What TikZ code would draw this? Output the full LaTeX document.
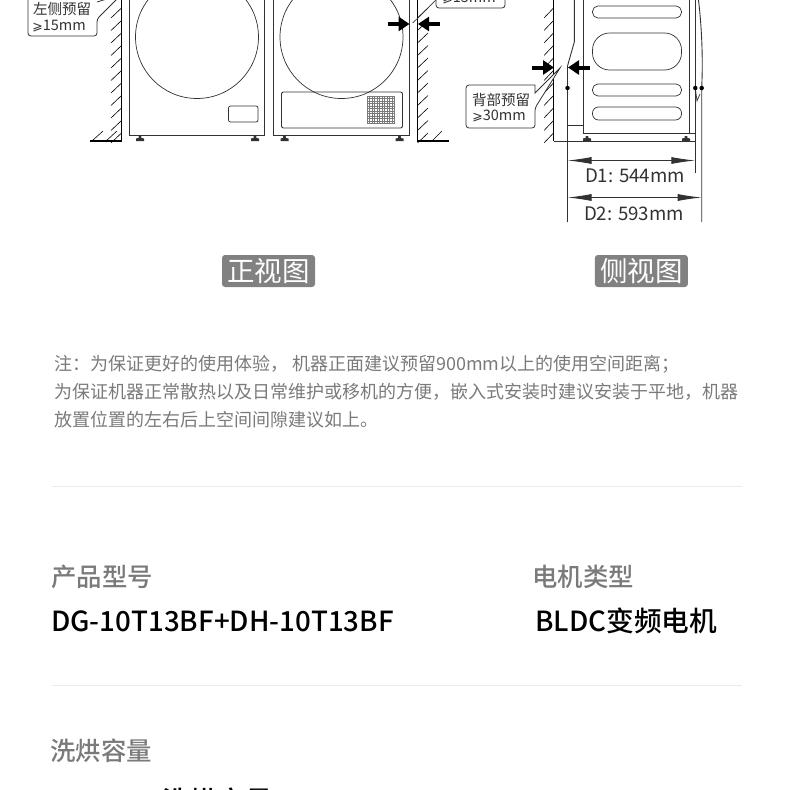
\documentclass[tikz,border=0pt]{standalone}
\usepackage{fontspec}
\setmainfont{Noto Sans CJK SC}
\newfontfamily\heavycjk{Noto Sans CJK SC Medium}
\newfontfamily\symfont{DejaVu Sans}
\usetikzlibrary{positioning,arrows.meta}
\definecolor{mygray} {RGB} {122,122,122}
\definecolor{myline} {RGB} {50,50,50}
\definecolor{myrule} {RGB} {235,235,235}
\newcommand{\geqs}{{\symfont\fontsize{12.5}{13}\selectfont ⩾}}
\tikzset{
    drawn/.style = {draw = myline, line width = 0.9pt},
    thin drawn/.style = {draw = myline, line width = 0.7pt},
    wall/.style = {draw = black, line width = 1.1pt},
    hatch/.style = {draw = black, line width = 0.6pt},
    foot/.style = {fill = myline, draw = none},
    gap arrow/.style = {draw = black, line width = 4pt, -{Triangle[length = 11pt, width = 14pt]}},
    dim arrow/.style = {draw = myline, line width = 0.9pt, {Latex[length = 24pt, width = 7pt]}-{Latex[length = 24pt, width = 7pt]}},
    callout/.style = {draw = myline, line width = 0.8pt, rounded corners = 3pt},
    dot/.style = {circle, fill = black, inner sep = 0pt, minimum size = 4.5pt},
    view tag/.style = {fill = mygray!95, text = white, rounded corners = 3pt, font = \fontsize{27.5}{28}\selectfont,
        minimum width = 93pt, minimum height = 32pt, inner sep = 0pt},
    small label/.style = {inner sep = 0pt, text = myline, font = \fontsize{14.5}{15}\selectfont},
    dim label/.style = {inner sep = 0pt, text = myline, font = \fontsize{18.7}{19}\selectfont},
    note/.style = {anchor = west, inner sep = 0pt, text = mygray, font = \fontsize{18}{18}\selectfont},
    head/.style = {anchor = west, inner sep = 0pt, text = mygray, font = \heavycjk\fontsize{25.4}{26}\selectfont},
    value/.style = {anchor = west, inner sep = 0pt, text = black, font = \heavycjk\fontsize{27.7}{28}\selectfont},
}
\begin{document}
\begin{tikzpicture}[x = 1pt, y = -1pt]
    \useasboundingbox (0,0) rectangle (790,790);
    \begin{scope}
    \clip (0,0) rectangle (790,790);
    % walls
    \draw [wall] (121.5,0) -- (121.5,141) -- (90,141);
    \draw [wall] (417.5,0) -- (417.5,141) -- (449,141);
    \draw [wall] (553.5,0) -- (553.5,141);
    \draw [drawn] (553.5,141) -- (695,141);
    \foreach \y in {8,20.5,...,133} {
        \draw [hatch] (111,\y+10) -- (121.5,\y);
        \draw [hatch] (417.5,\y+10) -- (428,\y);
        \draw [hatch] (544,\y+10) -- (553.5,\y);
    }
    \draw [hatch] (92,141) -- (103,131);
    \draw [hatch] (106,141) -- (117,131);
    \draw [hatch] (432,141) -- (442,131);
    % front view, left machine
    \draw [drawn] (129,0) -- (129,135) -- (264,135) -- (264,0);
    \draw [thin drawn] (197,37) circle (61.5);
    \draw [thin drawn, rounded corners = 2pt] (228.5,106) rectangle (258,122);
    % front view, right machine
    \draw [drawn] (273.5,0) -- (273.5,135) -- (409,135) -- (409,0);
    \draw [thin drawn] (341.5,37) circle (61.5);
    \draw [drawn, rounded corners = 2pt] (281.5,92) rectangle (402.5,128);
    \foreach \x in {367,369.5,...,395} {
        \draw [mygray, line width = 0.6pt] (\x,96) -- (\x,123);
    }
    \foreach \y in {96,98.5,...,123.5} {
        \draw [mygray, line width = 0.6pt] (367,\y) -- (395,\y);
    }
    \foreach \x in {140,255,284.5,399.5,587,686} {
        \fill [foot] (\x-1.2,136) -- (\x+1.2,136) -- (\x+1.5,138) -- (\x+4,138.5) -- (\x+4,141) -- (\x-4,141) -- (\x-4,138.5) -- (\x-1.5,138) -- cycle;
    }
    % side view
    \draw [drawn] (583.5,0) -- (583.5,133) -- (695,133);
    \draw [drawn] (689,0) -- (689,133);
    \draw [thin drawn, rounded corners = 5.5pt] (592.5,6) rectangle (681.5,18);
    \draw [thin drawn, rounded corners = 17pt] (592.5,33) rectangle (681.5,70);
    \draw [thin drawn, rounded corners = 5.5pt] (592.5,84) rectangle (681.5,96);
    \draw [thin drawn, rounded corners = 6pt] (592.5,107) rectangle (681.5,120);
    \draw [drawn] (567.5,125) -- (583.5,125);
    \draw [drawn] (574.3,0) -- (574.3,42) -- (567.5,66) -- (567.5,222);
    \draw [drawn] (695.3,0) -- (695.3,173);
    \draw [drawn] (698.5,0) .. controls (702,30) and (703,60) .. (701.7,88) -- (701.7,222);
    \draw [thin drawn] (695.3,88) -- (697,101) -- (700,94);
    \node [dot] (backdot) at (567.5,88) {};
    \node [dot] (dotA) at (695.3,88) {};
    \node [dot] (dotB) at (701.7,88) {};
    % dimensions
    \coordinate (d1l) at (567.5,160.5);
    \coordinate (d1r) at (695.3,160.5);
    \coordinate (d2l) at (567.5,197.5);
    \coordinate (d2r) at (701.7,197.5);
    \draw [dim arrow] (d1l) -- (d1r);
    \draw [dim arrow] (d2l) -- (d2r);
    \node [dim label] (dOne) at (635,176) {D1: 544mm};
    \node [dim label] (dTwo) at (634,214) {D2: 593mm};
    % gap arrows
    \coordinate (fa1) at (387.5,24);
    \coordinate (fa2) at (409.5,24);
    \coordinate (fb1) at (440,24);
    \coordinate (fb2) at (418,24);
    \coordinate (sa1) at (532,67.5);
    \coordinate (sa2) at (554,67.5);
    \coordinate (sb1) at (590,67.5);
    \coordinate (sb2) at (568,67.5);
    \draw [gap arrow] (fa1) -- (fa2);
    \draw [gap arrow] (fb1) -- (fb2);
    \draw [gap arrow] (sa1) -- (sa2);
    \draw [gap arrow] (sb1) -- (sb2);
    % callouts
    \filldraw [callout, fill = white] (28,-8) -- (28,36) -- (97,36) -- (97,19) [sharp corners] -- (118,-2) -- (110,-2) -- (97,2);
    \node [small label] (leftgap) at (62,9) {左侧预留};
    \node [small label] (leftmm) at (59,26) {\geqs 15mm};
    \filldraw [callout, fill = white] (436,-8) -- (436,8) -- (505,8) -- (505,-8);
    \draw [thin drawn] (412.7,23) -- (436,0);
    \node [small label] (rightmm) at (469,-2) {\geqs 15mm};
    \filldraw [callout, fill = white] (535,85) -- (466,85) -- (466,128) -- (535,128) -- (535,108) [sharp corners] -- (560,68) -- (535,93) -- cycle;
    \node [small label] (backgap) at (501,100) {背部预留};
    \node [small label] (backmm) at (499,116) {\geqs 30mm};
    \end{scope}
    % view tags
    \node [view tag] (frontTag) at (268.5,271) {正视图};
    \node [view tag] (sideTag) [right = 279.5pt of frontTag] {侧视图};
    % notes
    \node [note] (noteA) at (54,364) {注：为保证更好的使用体验， 机器正面建议预留900mm以上的使用空间距离；};
    \node [note] (noteB) at (54,391.5) {为保证机器正常散热以及日常维护或移机的方便，嵌入式安装时建议安装于平地，机器};
    \node [note] (noteC) at (54,419.5) {放置位置的左右后上空间间隙建议如上。};
    % specs
    \draw [myrule] (52,486) -- (742,486);
    \node [head] (modelHead) at (51,577) {产品型号};
    \node [head] (motorHead) at (532,577) {电机类型};
    \node [value] (modelValue) at (51,621) {DG-10T13BF+DH-10T13BF};
    \node [value] (motorValue) at (535,621) {BLDC变频电机};
    \draw [myrule] (52,685) -- (742,685);
    \node [head] (capHead) at (50,751) {洗烘容量};
    \node [value] (capValue) at (162,801) {洗烘容量};
\end{tikzpicture}
\end{document}
